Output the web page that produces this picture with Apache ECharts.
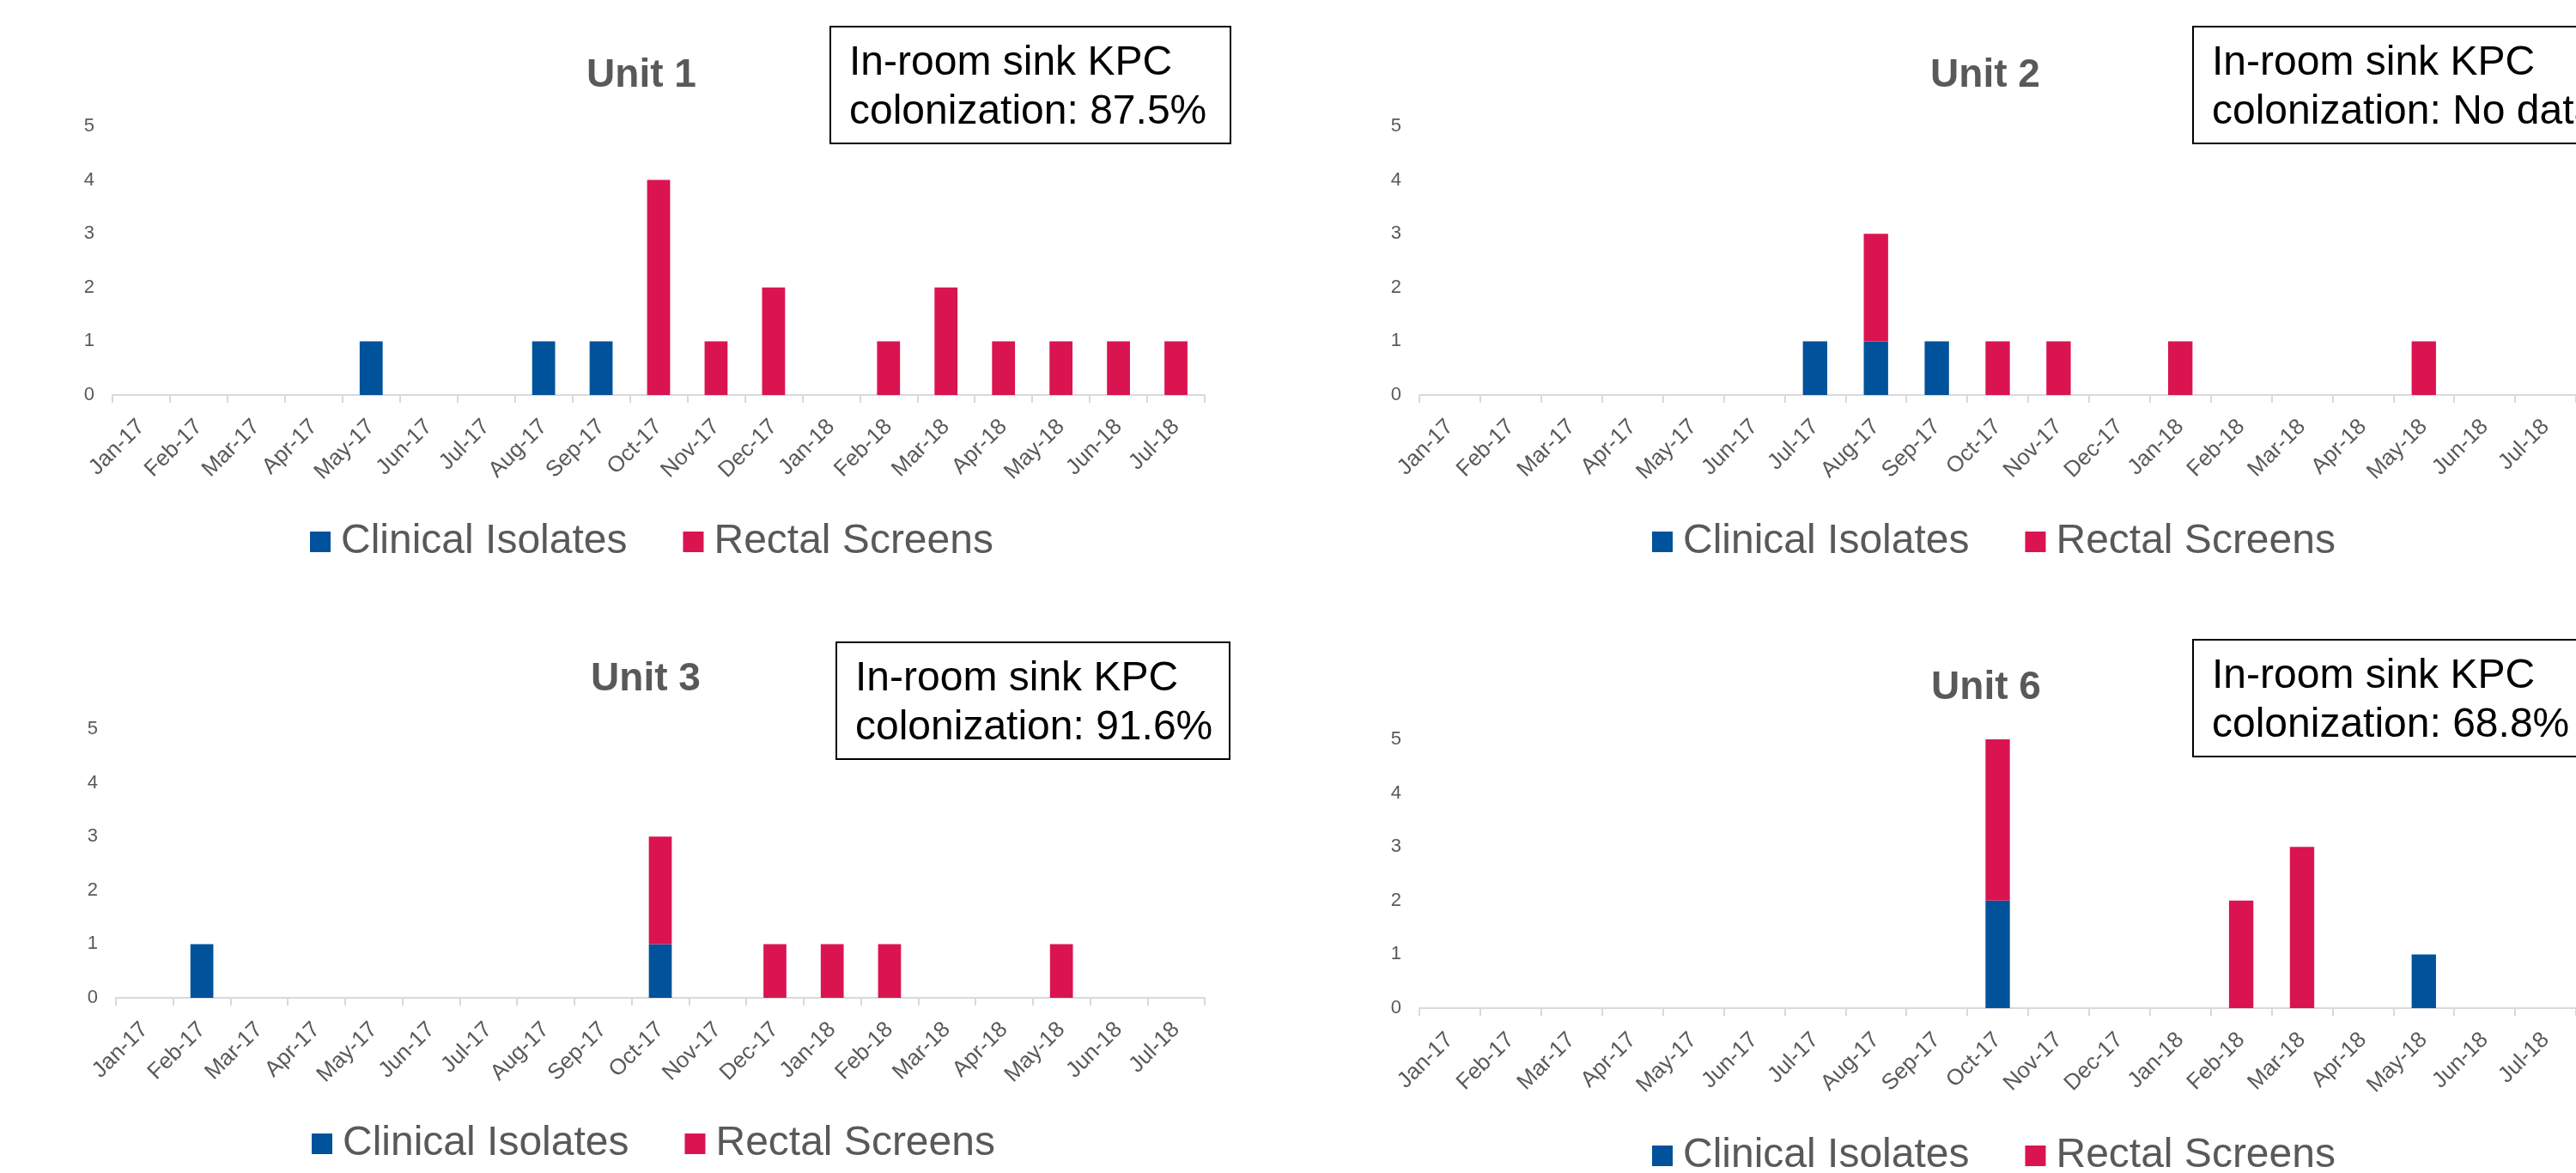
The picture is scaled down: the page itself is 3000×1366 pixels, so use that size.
<!DOCTYPE html>
<html><head><meta charset="utf-8">
<script src="https://cdn.jsdelivr.net/npm/echarts@6/dist/echarts.min.js"></script>
<style>html,body{margin:0;padding:0;background:#fff}#c{width:3000px;height:1366px}</style>
</head><body><div id="c"></div>
<script>
// ---- data ----
const months = ['Jan-17','Feb-17','Mar-17','Apr-17','May-17','Jun-17','Jul-17','Aug-17','Sep-17','Oct-17','Nov-17','Dec-17',
                'Jan-18','Feb-18','Mar-18','Apr-18','May-18','Jun-18','Jul-18'];
const unit1Clinical = [0,0,0,0,1,0,0,1,1,0,0,0,0,0,0,0,0,0,0];
const unit1Rectal   = [0,0,0,0,0,0,0,0,0,4,1,2,0,1,2,1,1,1,1];
const unit2Clinical = [0,0,0,0,0,0,1,1,1,0,0,0,0,0,0,0,0,0,0];
const unit2Rectal   = [0,0,0,0,0,0,0,2,0,1,1,0,1,0,0,0,1,0,0];
const unit3Clinical = [0,1,0,0,0,0,0,0,0,1,0,0,0,0,0,0,0,0,0];
const unit3Rectal   = [0,0,0,0,0,0,0,0,0,2,0,1,1,1,0,0,1,0,0];
const unit6Clinical = [0,0,0,0,0,0,0,0,0,2,0,0,0,0,0,0,1,0,0];
const unit6Rectal   = [0,0,0,0,0,0,0,0,0,3,0,0,0,2,3,0,0,0,0];
const unitTitles = ['Unit 1','Unit 2','Unit 3','Unit 6'];
const sinkColonization = ['87.5%','No data','91.6%','68.8%'];
const seriesNames = ['Clinical Isolates','Rectal Screens'];
const yTickMax = 5, yTickStep = 1;

// ---- layout / style ----
const FONT = "'Liberation Sans', Arial, sans-serif";
const BLUE = '#00529B', RED = '#DA1451', GREY = '#595959', AXIS = '#D9D9D9';
const clinical = [unit1Clinical, unit2Clinical, unit3Clinical, unit6Clinical];
const rectal = [unit1Rectal, unit2Rectal, unit3Rectal, unit6Rectal];
const panels = [
  {grid:{left:131,right:1597,top:147,bottom:906}, title:[747,88], box:[967,31,466,136], legend:[361,607]},
  {grid:{left:1653,right:-2,top:147,bottom:906}, title:[2312,88], box:[2554,31,466,136], legend:[1924,607]},
  {grid:{left:135,right:1597,top:849,bottom:204}, title:[752,791], box:[974,748,458,136], legend:[363,1308]},
  {grid:{left:1653,right:-2,top:861,bottom:192}, title:[2313,801], box:[2554,745,466,136], legend:[1924,1322]}
];

const nz = a => a.map(v => v === 0 ? null : v);

const option = {
  backgroundColor:'#fff',
  animation:false,
  textStyle:{fontFamily:FONT},
  grid: panels.map(p => Object.assign({containLabel:false}, p.grid)),
  xAxis: panels.map((p,i) => ({
    type:'category', gridIndex:i, data:months, boundaryGap:true,
    axisLine:{show:true, lineStyle:{color:AXIS, width:2}},
    axisTick:{show:true, length:9, lineStyle:{color:AXIS, width:2}, alignWithLabel:false, interval:0},
    axisLabel:{interval:0, rotate:45, margin:33, color:GREY, fontSize:26, fontFamily:FONT}
  })),
  yAxis: panels.map((p,i) => ({
    type:'value', gridIndex:i, min:0, max:yTickMax, interval:yTickStep,
    axisLine:{show:false}, axisTick:{show:false}, splitLine:{show:false},
    axisLabel:{color:GREY, fontSize:22, margin:21, fontFamily:FONT}
  })),
  legend: panels.map((p,i) => ({
    data:seriesNames, left:p.legend[0], top:p.legend[1], padding:0,
    icon:'rect', itemWidth:24, itemHeight:24, itemGap:65,
    textStyle:{fontSize:48, color:GREY, fontFamily:FONT, padding:[0,0,0,7]}
  })),
  series: [],
  graphic: []
};

panels.forEach((p,i) => {
  option.series.push({name:seriesNames[0], type:'bar', xAxisIndex:i, yAxisIndex:i, stack:'u'+i,
    barWidth:'40%', itemStyle:{color:BLUE}, data:nz(clinical[i])});
  option.series.push({name:seriesNames[1], type:'bar', xAxisIndex:i, yAxisIndex:i, stack:'u'+i,
    barWidth:'40%', itemStyle:{color:RED}, data:nz(rectal[i])});
  option.graphic.push({type:'text', x:p.title[0], y:p.title[1],
    style:{text:unitTitles[i], font:"bold 46px " + FONT, fill:GREY, align:'center', verticalAlign:'middle'}});
  option.graphic.push({type:'rect', shape:{x:p.box[0], y:p.box[1], width:p.box[2], height:p.box[3]},
    style:{fill:'#fff', stroke:'#000', lineWidth:2}});
  option.graphic.push({type:'text', x:p.box[0]+22, y:p.box[1]+14,
    style:{text:'In-room sink KPC\ncolonization: ' + sinkColonization[i], font:"48px " + FONT,
      fill:'#000', lineHeight:57, align:'left', verticalAlign:'top'}});
});

const chart = echarts.init(document.getElementById('c'), null, {renderer:'canvas'});
chart.setOption(option);
</script>
</body></html>
